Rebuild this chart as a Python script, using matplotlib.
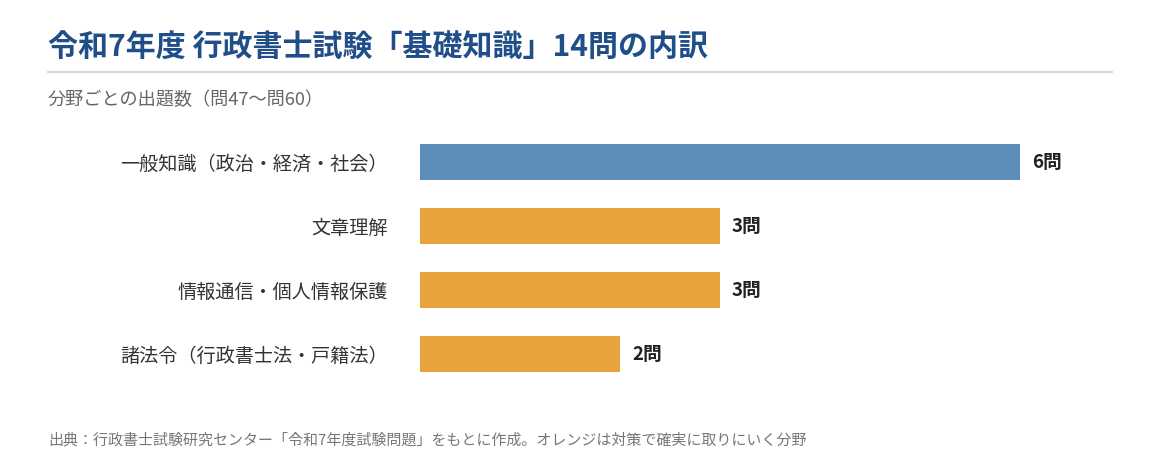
import matplotlib
matplotlib.use("Agg")
import matplotlib.pyplot as plt
from matplotlib.lines import Line2D

plt.rcParams['font.family'] = ['Noto Sans CJK JP', 'DejaVu Sans']

categories = ['一般知識（政治・経済・社会）', '文章理解', '情報通信・個人情報保護', '諸法令（行政書士法・戸籍法）']
counts = [6, 3, 3, 2]
colors = ['#5b8db8', '#e8a33d', '#e8a33d', '#e8a33d']
value_labels = [f'{c}問' for c in counts]

title = '令和7年度 行政書士試験「基礎知識」14問の内訳'
subtitle = '分野ごとの出題数（問47〜問60）'
footer = '出典：行政書士試験研究センター「令和7年度試験問題」をもとに作成。オレンジは対策で確実に取りにいく分野'

W, H = 1160, 476
fig = plt.figure(figsize=(W / 100, H / 100), dpi=100)
fig.patch.set_facecolor('white')

# axes placed in pixel terms: x 420..1120, y 130..386
ax = fig.add_axes([420 / W, (H - 386) / H, 700 / W, 256 / H])
ypos = list(range(len(categories)))
ax.barh(ypos, counts, height=0.5625, color=colors)
ax.set_xlim(0, 7)
ax.set_ylim(3.5, -0.5)
ax.set_yticks(ypos)
ax.set_yticklabels(categories, fontsize=13.8, color='#333333')
ax.tick_params(axis='y', length=0, pad=23)
ax.set_xticks([])
for s in ax.spines.values():
    s.set_visible(False)

for y, c, lab in zip(ypos, counts, value_labels):
    ax.text(c + 0.12, y, lab, va='center', ha='left', fontsize=13.5,
            fontweight='bold', color='#222222')

fig.text(48 / W, 1 - 47 / H, title, fontsize=21.6, fontweight='bold',
         color='#1f4e88', va='center', ha='left')
fig.add_artist(Line2D([48 / W, 1112 / W], [1 - 72 / H, 1 - 72 / H],
                      color='#d9d9d9', lw=1.5, transform=fig.transFigure))
fig.text(48 / W, 1 - 100 / H, subtitle, fontsize=13.1, color='#666666',
         va='center', ha='left')
fig.text(48 / W, 1 - 440 / H, footer, fontsize=10.8, color='#777777',
         va='center', ha='left')

fig.savefig('out.png', dpi=100, facecolor='white')
